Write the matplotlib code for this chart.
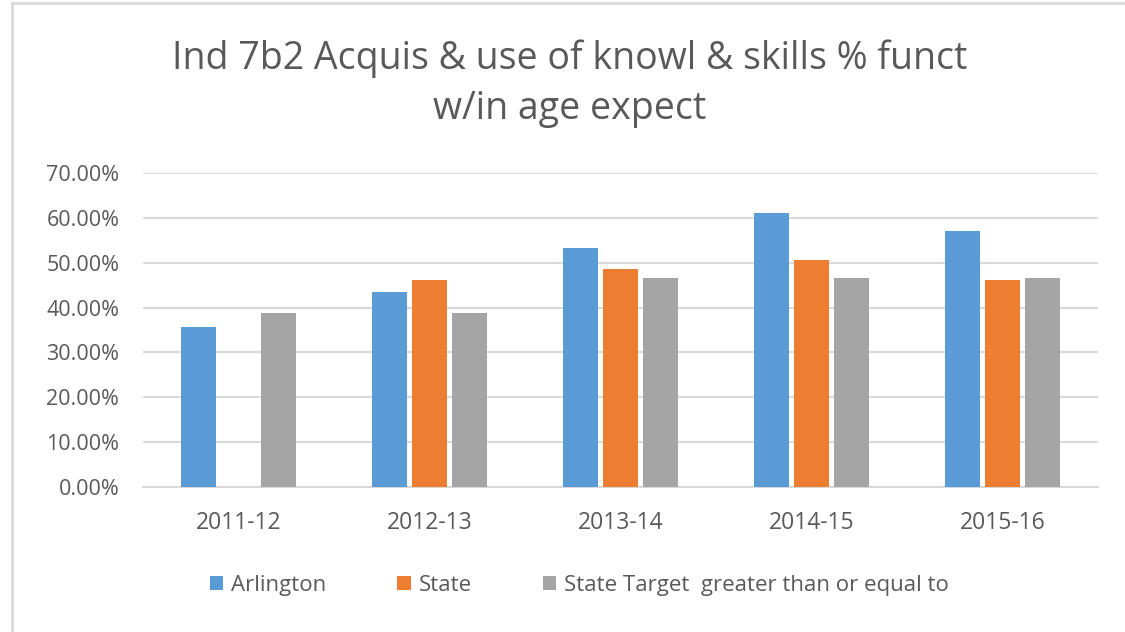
import numpy as np
import matplotlib
matplotlib.use("Agg")
import matplotlib.pyplot as plt
from matplotlib.ticker import FuncFormatter
from matplotlib.lines import Line2D

# donnees
years = ["2011-12", "2012-13", "2013-14", "2014-15", "2015-16"]
arlington = [0.357, 0.435, 0.533, 0.611, 0.571]
state = [np.nan, 0.461, 0.487, 0.507, 0.461]
state_target = [0.388, 0.388, 0.467, 0.467, 0.467]

series_names = ["Arlington", "State", "State Target  greater than or equal to"]
colors = ["#5b9bd5", "#ed7d31", "#a5a5a5"]
text_color = "#595959"
grid_color = "#d9d9d9"

plt.rcParams["font.family"] = ["Open Sans", "DejaVu Sans"]

fig = plt.figure(figsize=(11.25, 6.32), dpi=100)
ax = fig.add_axes([0.127, 0.2294, 0.849, 0.4969])

x = np.arange(len(years))
width = 0.183
offset = 0.209
for i, vals in enumerate([arlington, state, state_target]):
    ax.bar(x + (i - 1) * offset, vals, width, color=colors[i], label=series_names[i], zorder=3)

ax.set_ylim(0, 0.7)
ax.set_xlim(-0.5, len(years) - 0.5)
ax.set_yticks(np.arange(0, 0.71, 0.1))
ax.yaxis.set_major_formatter(FuncFormatter(lambda v, p: f"{v * 100:.2f}%"))
ax.set_xticks(x)
ax.set_xticklabels(years)
ax.tick_params(axis="both", length=0, colors=text_color)
ax.tick_params(axis="y", pad=17, labelsize=15.5)
ax.tick_params(axis="x", pad=17, labelsize=16.5)
ax.grid(axis="y", color=grid_color, linewidth=1.5, zorder=0)
for s in ["top", "right", "left"]:
    ax.spines[s].set_visible(False)
ax.spines["bottom"].set_color(grid_color)
ax.spines["bottom"].set_linewidth(1.5)

fig.suptitle("Ind 7b2 Acquis & use of knowl & skills % funct\nw/in age expect",
             x=0.506, y=0.937, va="top", fontsize=27, color=text_color, linespacing=1.39)

fig.legend(loc="center", bbox_to_anchor=(0.515, 0.074), ncol=3, frameon=False,
           fontsize=16, labelcolor=text_color, handlelength=0.6, handleheight=0.6,
           handletextpad=0.35, columnspacing=3.2)

# bordure du cadre
fig.add_artist(Line2D([0.0107, 0.0107], [0, 0.995], transform=fig.transFigure, color=grid_color, lw=2))
fig.add_artist(Line2D([0.0107, 1], [0.995, 0.995], transform=fig.transFigure, color=grid_color, lw=2))

fig.savefig("out.png", dpi=100)
